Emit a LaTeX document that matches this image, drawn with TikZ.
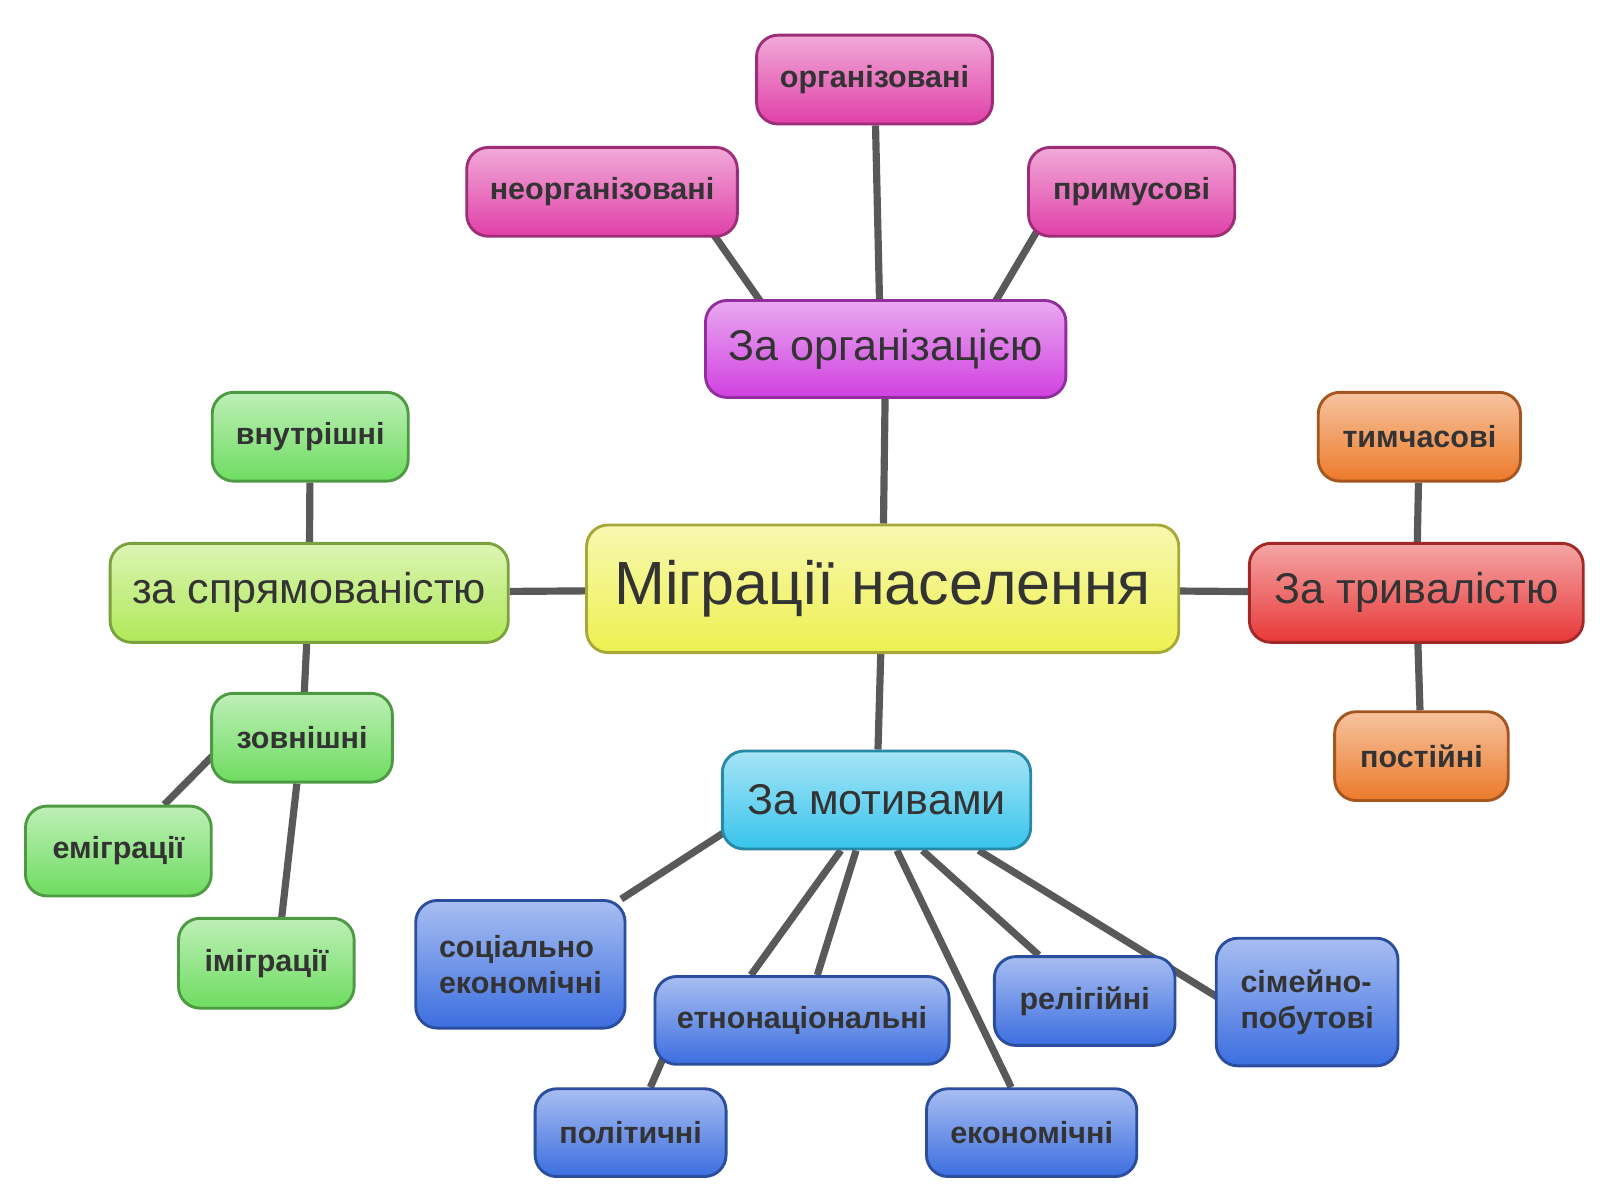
\documentclass[tikz,border=0pt]{standalone}
\usepackage{fontspec}
\setmainfont{Liberation Sans}
\usetikzlibrary{backgrounds,calc}
\definecolor{txt}{HTML}{333333}
\tikzset{
 box/.style={rounded corners=6pt, draw=#1!70!black, line width=0.8pt, top color=#1!45!white, bottom color=#1, text=txt, inner sep=0pt},
 small/.style={font=\bfseries\fontsize{8.5}{10}\selectfont, align=left},
 mid/.style={font=\fontsize{12}{14}\selectfont},
 conn/.style={draw=black!65, line width=2pt}
}
\definecolor{cyel}{HTML}{EEF050}
\definecolor{cmag}{HTML}{D040E0}
\definecolor{cpink}{HTML}{E040A8}
\definecolor{clg}{HTML}{B0E858}
\definecolor{cgr}{HTML}{6EDC60}
\definecolor{cred}{HTML}{E83838}
\definecolor{cor}{HTML}{EC7A2A}
\definecolor{ccy}{HTML}{38C4EC}
\definecolor{cbl}{HTML}{3C6EE0}
\begin{document}
\begin{tikzpicture}[x=0.01cm,y=-0.01cm]
\useasboundingbox (0,0) rectangle (1568,1176);
\node[box=cyel,minimum width=5.8cm,minimum height=1.25cm,font=\fontsize{17}{20}\selectfont] (c) at (865,577) {Міграції населення};
\node[box=cmag,mid,minimum width=3.53cm,minimum height=0.95cm] (o) at (868,342) {За організацією};
\node[box=cpink,small,minimum width=2.31cm,minimum height=0.87cm] (o1) at (857,78) {організовані};
\node[box=cpink,small,minimum width=2.65cm,minimum height=0.87cm] (o2) at (590,188) {неорганізовані};
\node[box=cpink,small,minimum width=2.02cm,minimum height=0.87cm] (o3) at (1109,188) {примусові};
\node[box=clg,mid,minimum width=3.9cm,minimum height=0.97cm] (s) at (303,581) {за спрямованістю};
\node[box=cgr,small,minimum width=1.92cm,minimum height=0.87cm] (s1) at (304,428) {внутрішні};
\node[box=cgr,small,minimum width=1.77cm,minimum height=0.87cm] (s2) at (296,723) {зовнішні};
\node[box=cgr,small,minimum width=1.82cm,minimum height=0.88cm] (s3) at (116,834) {еміграції};
\node[box=cgr,small,minimum width=1.72cm,minimum height=0.88cm] (s4) at (261,944) {іміграції};
\node[box=cred,mid,minimum width=3.27cm,minimum height=0.97cm] (t) at (1388,581) {За тривалістю};
\node[box=cor,small,minimum width=1.98cm,minimum height=0.87cm] (t1) at (1391,428) {тимчасові};
\node[box=cor,small,minimum width=1.7cm,minimum height=0.87cm] (t2) at (1393,741) {постійні};
\node[box=ccy,mid,minimum width=3.02cm,minimum height=0.96cm] (m) at (859,784) {За мотивами};
\node[box=cbl,small,minimum width=2.05cm,minimum height=1.25cm] (m1) at (510,945) {соціально\\економічні};
\node[box=cbl,small,minimum width=2.88cm,minimum height=0.86cm] (m2) at (786,1000) {етнонаціональні};
\node[box=cbl,small,minimum width=1.87cm,minimum height=0.86cm] (m3) at (618,1110) {політичні};
\node[box=cbl,small,minimum width=2.06cm,minimum height=0.86cm] (m4) at (1011,1110) {економічні};
\node[box=cbl,small,minimum width=1.77cm,minimum height=0.87cm] (m5) at (1063,981) {релігійні};
\node[box=cbl,small,minimum width=1.78cm,minimum height=1.25cm] (m6) at (1281,982) {сімейно-\\побутові};
\begin{scope}[on background layer]
\draw[conn] (c) -- (o); \draw[conn] (c) -- (s); \draw[conn] (c) -- (t); \draw[conn] (c) -- (m);
\draw[conn] ([xshift=-0.05cm]o.center) -- (o1);
\draw[conn] ([xshift=-0.9cm]o.center) -- ([xshift=0.8cm]o2.center);
\draw[conn] ([xshift=0.8cm]o.center) -- ([xshift=-0.7cm]o3.center);
\draw[conn] (s) -- (s1); \draw[conn] (s) -- (s2);
\draw[conn] ([xshift=-0.7cm]s2.center) -- (s3);
\draw[conn] (s2) -- ([xshift=0.1cm]s4.center);
\draw[conn] (t) -- (t1); \draw[conn] (t) -- (t2);
\draw[conn] ([xshift=-1cm]m.center) -- (m1);
\draw[conn] ([xshift=-0.35cm]m.south) -- ([xshift=-0.5cm]m2.north);
\draw[conn] ([xshift=-0.2cm]m.south) -- ([xshift=0.15cm]m2.north);
\draw[conn] ([xshift=-1.2cm]m2.center) -- (m3);
\draw[conn] ([xshift=0.2cm]m.south) -- ([xshift=-0.2cm]m4.north);
\draw[conn] ([xshift=0.45cm]m.south) -- ([xshift=-0.45cm]m5.north);
\draw[conn] ([xshift=1cm]m.south) -- ([xshift=-0.8cm]m6.center);
\end{scope}
\end{tikzpicture}
\end{document}
